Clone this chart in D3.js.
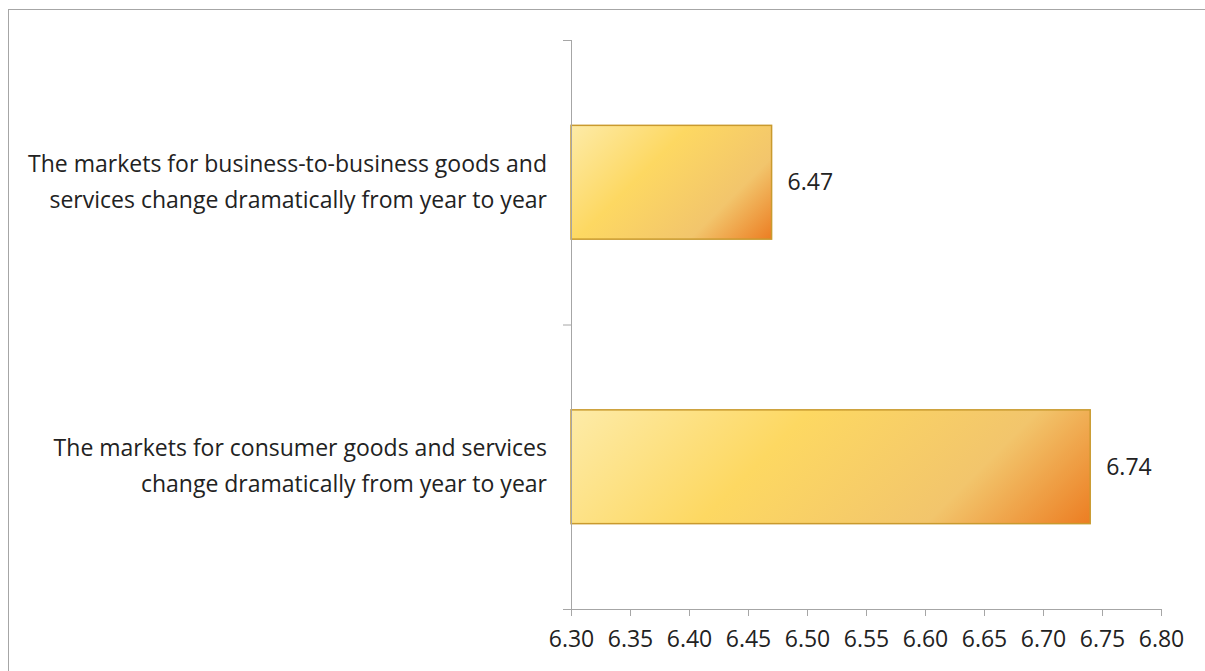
<!DOCTYPE html>
<html>
<head>
<meta charset="utf-8">
<script src="https://cdn.jsdelivr.net/npm/d3@7"></script>
<style>
  html, body { margin: 0; padding: 0; background: #fff; }
  svg { display: block; }
  text { font-family: "Open Sans", "Noto Sans", sans-serif; fill: #222; }
</style>
</head>
<body>
<svg id="chart" width="1205" height="671"></svg>
<script>
// Statements (top to bottom) and their mean agreement scores
const categories = [
  ["The markets for business-to-business goods and", "services change dramatically from year to year"],
  ["The markets for consumer goods and services", "change dramatically from year to year"]
];
const values = [6.47, 6.74];
const tickValues = [6.30, 6.35, 6.40, 6.45, 6.50, 6.55, 6.60, 6.65, 6.70, 6.75, 6.80];

const svg = d3.select("#chart");

// Outer chart frame
svg.append("rect")
  .attr("x", 8.5).attr("y", 9.5)
  .attr("width", 1200).attr("height", 670)
  .attr("fill", "#fff").attr("stroke", "#a6a6a6").attr("stroke-width", 1);

const plot = { left: 571, right: 1161, top: 40, bottom: 609 };

const x = d3.scaleLinear().domain([6.30, 6.80]).range([plot.left, plot.right]);
const y = d3.scaleBand().domain(d3.range(categories.length))
  .range([plot.top, plot.bottom]).paddingInner(0).paddingOuter(0);

const barH = y.bandwidth() * 0.4;
const barY = i => y(i) + (y.bandwidth() - barH) / 2;

// One 45-degree warm gradient per bar, laid out in page space
const defs = svg.append("defs");
const stops = [
  [0.00, "#fdeba8"],
  [0.38, "#fdd862"],
  [0.74, "#f2c56c"],
  [1.00, "#ec7d22"]
];
values.forEach((v, i) => {
  const x0 = x(6.30), y0 = barY(i), w = x(v) - x(6.30);
  const L = (w + barH) / 2;
  const g = defs.append("linearGradient")
    .attr("id", "barGrad" + i)
    .attr("gradientUnits", "userSpaceOnUse")
    .attr("x1", x0).attr("y1", y0)
    .attr("x2", x0 + L).attr("y2", y0 + L);
  stops.forEach(([o, c]) => g.append("stop").attr("offset", o).attr("stop-color", c));
});

// Bars
svg.append("g").selectAll("rect")
  .data(values)
  .join("rect")
  .attr("x", x(6.30))
  .attr("y", (d, i) => barY(i))
  .attr("width", d => x(d) - x(6.30))
  .attr("height", barH)
  .attr("fill", (d, i) => `url(#barGrad${i})`)
  .attr("stroke", "#c99a2e")
  .attr("stroke-width", 1.5);

// Value labels
svg.append("g").selectAll("text")
  .data(values)
  .join("text")
  .attr("x", d => x(d) + 16)
  .attr("y", (d, i) => y(i) + y.bandwidth() / 2)
  .attr("dy", "0.35em")
  .attr("font-size", 23)
  .text(d => d.toFixed(2));

// X axis
const xAxis = svg.append("g")
  .attr("transform", `translate(0,${plot.bottom})`)
  .call(d3.axisBottom(x).tickValues(tickValues).tickSize(7).tickPadding(15).tickFormat(d3.format(".2f")));
xAxis.select(".domain").attr("stroke", "#a6a6a6").attr("d", `M${plot.left - 6},0.5H${plot.right}`);
xAxis.selectAll(".tick line").attr("stroke", "#a6a6a6");
xAxis.selectAll(".tick text").attr("font-size", 23).attr("fill", "#222")
  .attr("font-family", "'Open Sans', sans-serif");

// Y axis line with category separators
const yAxis = svg.append("g");
yAxis.append("line")
  .attr("x1", plot.left + 0.5).attr("x2", plot.left + 0.5)
  .attr("y1", plot.top).attr("y2", plot.bottom)
  .attr("stroke", "#a6a6a6");
yAxis.selectAll("line.sep")
  .data(d3.range(categories.length + 1))
  .join("line")
  .attr("class", "sep")
  .attr("x1", plot.left - 8).attr("x2", plot.left)
  .attr("y1", i => (i < categories.length ? y(i) : plot.bottom) + 0.5)
  .attr("y2", i => (i < categories.length ? y(i) : plot.bottom) + 0.5)
  .attr("stroke", "#a6a6a6");

// Category labels, two lines, right aligned
const labels = svg.append("g").selectAll("text")
  .data(categories)
  .join("text")
  .attr("text-anchor", "end")
  .attr("font-size", 23)
  .attr("y", (d, i) => y(i) + y.bandwidth() / 2);
labels.selectAll("tspan")
  .data(d => d)
  .join("tspan")
  .attr("x", 547)
  .attr("dy", (d, j) => j === 0 ? "-0.45em" : "1.55em")
  .text(d => d);
</script>
</body>
</html>
